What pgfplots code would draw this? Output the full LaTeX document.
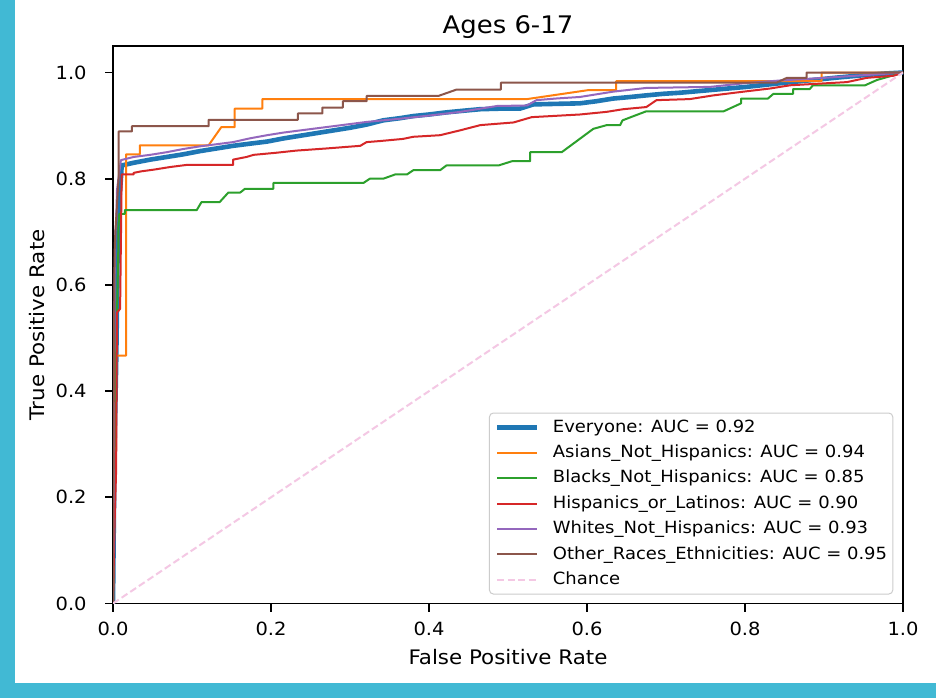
\documentclass[border=0pt]{standalone}
\usepackage{fontspec}
\setmainfont{DejaVu Sans}[FakeStretch=1.07]
\usepackage{pgfplots}
\pgfplotsset{compat=1.18}
\definecolor{tabblue}{HTML}{1F77B4}
\definecolor{taborange}{HTML}{FF7F0E}
\definecolor{tabgreen}{HTML}{2CA02C}
\definecolor{tabred}{HTML}{D62728}
\definecolor{tabpurple}{HTML}{9467BD}
\definecolor{tabbrown}{HTML}{8C564B}
\definecolor{chancepink}{RGB}{244,200,228}
\definecolor{cyanb}{RGB}{65,185,212}
\begin{document}
\begin{tikzpicture}
\path[use as bounding box] (0,0) rectangle (468pt,349pt);
\fill[white] (0,0) rectangle (468pt,349pt);
\fill[cyanb] (0,0) rectangle (7.5pt,349pt);
\fill[cyanb] (0,0) rectangle (468pt,7.5pt);
\begin{axis}[
  at={(56.5pt,47.25pt)}, anchor=south west,
  scale only axis, width=395pt, height=278.75pt,
  xmin=0, xmax=1, ymin=0, ymax=1.05,
  xtick={0,0.2,0.4,0.6,0.8,1.0},
  ytick={0,0.2,0.4,0.6,0.8,1.0},
  xticklabels={0.0,0.2,0.4,0.6,0.8,1.0},
  yticklabels={0.0,0.2,0.4,0.6,0.8,1.0},
  tick pos=left, tick align=outside, major tick length=4pt,
  every tick/.style={black, line width=0.9pt},
  axis line style={line width=0.9pt},
  /pgf/number format/assume math mode=true,
  tick label style={font=\fontsize{9.1}{11}\selectfont},
  xticklabel style={anchor=base, inner sep=0pt, yshift=-11.75pt},
  yticklabel style={anchor=east, inner sep=0pt, xshift=-9pt},
  title={Ages 6-17},
  title style={at={(axis description cs:0.5,1)}, anchor=base, yshift=0.35pt, font=\fontsize{12.1}{14}\selectfont, inner sep=0pt},
  xlabel={False Positive Rate},
  ylabel={True Positive Rate},
  label style={font=\fontsize{10}{12}\selectfont, inner sep=0pt},
  xlabel style={at={(axis description cs:0.5,0)}, anchor=base, yshift=-30.25pt},
  ylabel style={at={(axis description cs:-0.0861,0.5)}, anchor=base},
  legend image code/.code={\draw[#1] (0pt,0pt) -- (19.6pt,0pt);},
  legend cell align=left,
  legend style={at={(axis description cs:0.9877,0.0161)}, anchor=south east,
    font=\fontsize{8.4}{10}\selectfont,
    draw=black!20, fill=white, fill opacity=0.8, text opacity=1, draw opacity=1,
    rounded corners=2pt, line width=0.5pt,
    inner xsep=2.85pt, inner ysep=3pt,
    column sep=7pt, row sep=4.4pt,
    nodes={inner sep=0pt, text height=6.5pt, text depth=1.8pt}},
  every axis plot/.append style={line join=round},
]
% Everyone
\addplot[tabblue, line width=2.3pt] coordinates {
(0,0) (0.001,0.15) (0.002,0.30) (0.004,0.45) (0.005,0.55) (0.0055,0.62) (0.006,0.70) (0.008,0.76) (0.010,0.80) (0.011,0.825)
(0.026,0.830) (0.047,0.836) (0.068,0.841) (0.089,0.846) (0.110,0.852) (0.131,0.857) (0.152,0.862) (0.173,0.866) (0.195,0.870)
(0.216,0.876) (0.237,0.881) (0.258,0.886) (0.279,0.891) (0.300,0.896) (0.321,0.902) (0.342,0.910) (0.363,0.914) (0.380,0.918)
(0.400,0.921) (0.422,0.925) (0.443,0.928) (0.465,0.931) (0.490,0.932) (0.515,0.932) (0.532,0.940) (0.560,0.941) (0.591,0.942)
(0.612,0.946) (0.633,0.951) (0.655,0.954) (0.675,0.957) (0.697,0.960) (0.718,0.962) (0.756,0.967) (0.802,0.973) (0.845,0.980)
(0.886,0.986) (0.920,0.991) (0.950,0.995) (0.975,0.998) (1,1)};
\addlegendentry{Everyone: AUC = 0.92}
% Asians
\addplot[taborange, line width=1pt] coordinates {
(0,0) (0.002,0.20) (0.004,0.467) (0.0165,0.467) (0.0165,0.846) (0.034,0.846) (0.034,0.863) (0.121,0.863) (0.137,0.897)
(0.154,0.897) (0.154,0.932) (0.189,0.932) (0.189,0.950) (0.524,0.950) (0.602,0.967) (0.637,0.967) (0.637,0.984) (0.897,0.984)
(0.897,1.0) (1,1)};
\addlegendentry{Asians\_Not\_Hispanics: AUC = 0.94}
% Blacks
\addplot[tabgreen, line width=1pt] coordinates {
(0,0) (0.003,0.40) (0.0067,0.665) (0.0067,0.706) (0.008,0.734) (0.015,0.734) (0.015,0.741) (0.106,0.741) (0.112,0.756)
(0.135,0.756) (0.146,0.774) (0.161,0.774) (0.167,0.781) (0.203,0.781) (0.203,0.792) (0.317,0.792) (0.325,0.800) (0.342,0.800)
(0.357,0.808) (0.372,0.808) (0.380,0.816) (0.414,0.816) (0.422,0.825) (0.488,0.825) (0.505,0.833) (0.528,0.833) (0.528,0.850)
(0.568,0.850) (0.608,0.894) (0.625,0.901) (0.642,0.901) (0.645,0.910) (0.659,0.918) (0.675,0.927) (0.773,0.927) (0.795,0.942)
(0.795,0.951) (0.829,0.951) (0.836,0.960) (0.861,0.960) (0.861,0.969) (0.882,0.969) (0.886,0.976) (0.952,0.976) (0.967,0.986)
(1,1)};
\addlegendentry{Blacks\_Not\_Hispanics: AUC = 0.85}
% Hispanics
\addplot[tabred, line width=1pt] coordinates {
(0,0) (0.002,0.15) (0.004,0.253) (0.005,0.548) (0.009,0.555) (0.011,0.808) (0.026,0.808) (0.026,0.811) (0.036,0.814)
(0.051,0.817) (0.072,0.822) (0.093,0.826) (0.152,0.826) (0.152,0.836) (0.169,0.841) (0.178,0.845) (0.207,0.849) (0.232,0.853)
(0.270,0.857) (0.313,0.862) (0.321,0.869) (0.338,0.871) (0.367,0.875) (0.380,0.879) (0.414,0.882) (0.439,0.891) (0.465,0.901)
(0.507,0.906) (0.530,0.916) (0.591,0.921) (0.625,0.926) (0.646,0.931) (0.675,0.935) (0.688,0.948) (0.730,0.950) (0.760,0.957)
(0.798,0.964) (0.832,0.970) (0.857,0.976) (0.929,0.982) (0.954,0.990) (0.988,0.994) (1,1)};
\addlegendentry{Hispanics\_or\_Latinos: AUC = 0.90}
% Whites
\addplot[tabpurple, line width=1pt] coordinates {
(0,0) (0.001,0.30) (0.002,0.60) (0.003,0.70) (0.004,0.712) (0.005,0.778) (0.010,0.835) (0.026,0.841) (0.047,0.845)
(0.068,0.850) (0.089,0.856) (0.110,0.861) (0.131,0.865) (0.152,0.869) (0.173,0.876) (0.195,0.882) (0.216,0.887) (0.237,0.891)
(0.258,0.895) (0.279,0.899) (0.300,0.903) (0.321,0.907) (0.342,0.910) (0.363,0.913) (0.400,0.919) (0.440,0.926) (0.486,0.937)
(0.524,0.938) (0.536,0.948) (0.560,0.951) (0.591,0.954) (0.633,0.964) (0.675,0.971) (0.756,0.973) (0.800,0.980) (0.844,0.985)
(0.900,0.990) (0.950,0.995) (1,1)};
\addlegendentry{Whites\_Not\_Hispanics: AUC = 0.93}
% Other
\addplot[tabbrown, line width=1pt] coordinates {
(0,0) (0.001,0.40) (0.002,0.66) (0.003,0.70) (0.007,0.80) (0.007,0.889) (0.024,0.889) (0.024,0.899) (0.121,0.899)
(0.121,0.911) (0.234,0.911) (0.234,0.923) (0.265,0.923) (0.265,0.934) (0.291,0.934) (0.291,0.946) (0.321,0.946) (0.321,0.956)
(0.412,0.956) (0.435,0.968) (0.491,0.968) (0.491,0.981) (0.840,0.981) (0.853,0.990) (0.878,0.990) (0.878,1.0) (1,1)};
\addlegendentry{Other\_Races\_Ethnicities: AUC = 0.95}
% Chance
\addplot[chancepink, line width=1pt, dash pattern=on 3.5pt off 1.7pt] coordinates {(0,0) (1,1)};
\addlegendentry{Chance}
\end{axis}
\end{tikzpicture}
\end{document}
